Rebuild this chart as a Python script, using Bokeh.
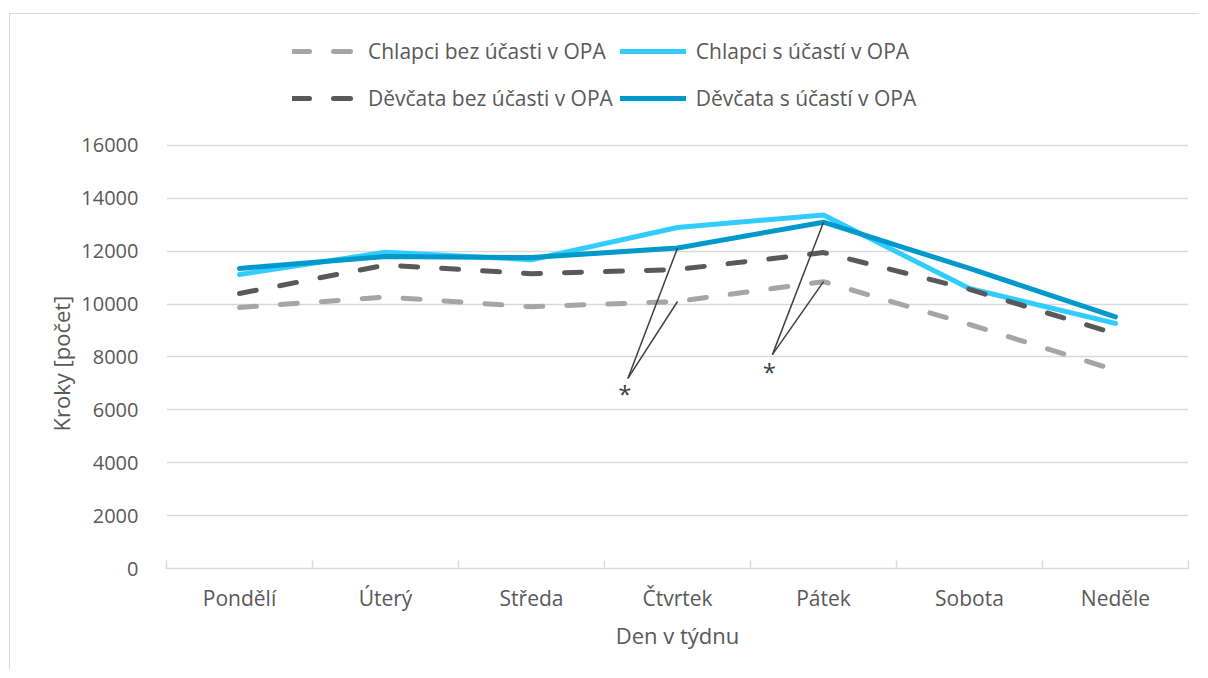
from bokeh.plotting import figure
from bokeh.models import (FixedTicker, Range1d, Legend, LegendItem, Title)
from bokeh.core.properties import value
from bokeh.embed import file_html
from bokeh.resources import INLINE

# ---- data ----
days = ["Pondělí", "Úterý", "Středa", "Čtvrtek", "Pátek", "Sobota", "Neděle"]
chlapci_bez = [9870, 10270, 9900, 10100, 10850, 9230, 7500]
chlapci_s = [11120, 11960, 11680, 12900, 13370, 10590, 9270]
devcata_bez = [10400, 11480, 11150, 11310, 11950, 10560, 8880]
devcata_s = [11350, 11800, 11760, 12120, 13100, 11350, 9520]
y_ticks = [0, 2000, 4000, 6000, 8000, 10000, 12000, 14000, 16000]

series_names = ["Chlapci bez účasti v OPA", "Chlapci s účastí v OPA",
                "Děvčata bez účasti v OPA", "Děvčata s účastí v OPA"]

# significance marks (*): days where the lines point to two series
star_days = ["Čtvrtek", "Pátek"]

# ---- layout / style constants ----
FONT = "Open Sans"
TXT = "#595959"
GRID = "#D9D9D9"
Y_TOP = 20690          # frame extends above 16000 to host the legend
star_dx = [-0.34, -0.35]
star_y = [7190, 8090]
star_text_dx = [-0.36, -0.37]
star_text_y = [7230, 8090]

xs = [i + 0.5 for i in range(len(days))]

p = figure(width=1190, height=656, output_backend="svg", toolbar_location=None,
           x_range=Range1d(0, len(days)), y_range=Range1d(0, Y_TOP),
           min_border_left=156, min_border_right=12, min_border_top=7,
           min_border_bottom=102, margin=(13, 0, 0, 9))
p.styles = {"border-left": "1px solid #D9D9D9", "border-top": "1px solid #D9D9D9"}
p.outline_line_color = None
p.background_fill_color = "white"
p.border_fill_color = "white"

# axes
xa = p.xaxis[0]
xa.ticker = FixedTicker(ticks=xs, minor_ticks=list(range(len(days) + 1)))
xa.major_label_overrides = {x: d for x, d in zip(xs, days)}
xa.major_tick_line_color = None
xa.minor_tick_line_color = GRID
xa.minor_tick_line_width = 1.5
xa.minor_tick_in = 8
xa.minor_tick_out = 0
xa.axis_line_color = GRID
xa.axis_line_width = 1.5
xa.major_label_text_font = FONT
xa.major_label_text_font_size = "21px"
xa.major_label_text_color = TXT
xa.major_label_standoff = 9
xa.axis_label = "Den v týdnu"
xa.axis_label_text_font = FONT
xa.axis_label_text_font_size = "22px"
xa.axis_label_text_font_style = "normal"
xa.axis_label_text_color = TXT
xa.axis_label_standoff = 5

ya = p.yaxis[0]
ya.ticker = FixedTicker(ticks=y_ticks)
ya.axis_line_color = None
ya.major_tick_line_color = None
ya.minor_tick_line_color = None
ya.major_label_text_font = FONT
ya.major_label_text_font_size = "20px"
ya.major_label_text_color = TXT
ya.major_label_standoff = 22

p.xgrid.visible = False
p.ygrid.ticker = FixedTicker(ticks=y_ticks)
p.ygrid.grid_line_color = GRID
p.ygrid.grid_line_width = 1.5

# y-axis title (as side title so it can sit centred on the 0-16000 part)
p.add_layout(Title(text="Kroky  [počet]", align="left", offset=137,
                   text_font=FONT, text_font_size="22px",
                   text_font_style="normal", text_color=TXT, standoff=6),
             "left")

# series
styles = [
    dict(color="#A6A6A6", dash="17 24"),
    dict(color="#33CCFF", dash="solid"),
    dict(color="#595959", dash="17 24"),
    dict(color="#0099CC", dash="solid"),
]
data = [chlapci_bez, chlapci_s, devcata_bez, devcata_s]
renderers = []
for vals, st in zip(data, styles):
    r = p.line(xs, vals, line_color=st["color"], line_width=5,
               line_dash=st["dash"], line_cap="round", line_join="round")
    renderers.append(r)

# significance annotation lines
for d, dx, sy in zip(star_days, star_dx, star_y):
    i = days.index(d)
    for vals in (devcata_s, chlapci_bez):
        p.line([xs[i] + dx, xs[i]], [sy, vals[i]], line_color="#404040",
               line_width=1.5)
for d, dx, ty in zip(star_days, star_text_dx, star_text_y):
    i = days.index(d)
    p.text(x=[xs[i] + dx], y=[ty], text=["*"], text_font=value(FONT),
           text_font_size="24px", text_color="#404040",
           text_align="center", text_baseline="top")

# legend: column-major fill, so order items so rows read as in the original
order = [0, 2, 1, 3]
legend = Legend(items=[LegendItem(label=series_names[k], renderers=[renderers[k]])
                       for k in order],
                ncols=2, location=(126, 450), padding=0, margin=0,
                spacing=7, label_standoff=10, glyph_width=66,
                glyph_height=40, label_height=40,
                label_text_font=FONT, label_text_font_size="21px",
                label_text_color=TXT, border_line_color=None,
                background_fill_alpha=0)
p.add_layout(legend, "center")

open("out.html", "w").write(file_html(p, INLINE))
